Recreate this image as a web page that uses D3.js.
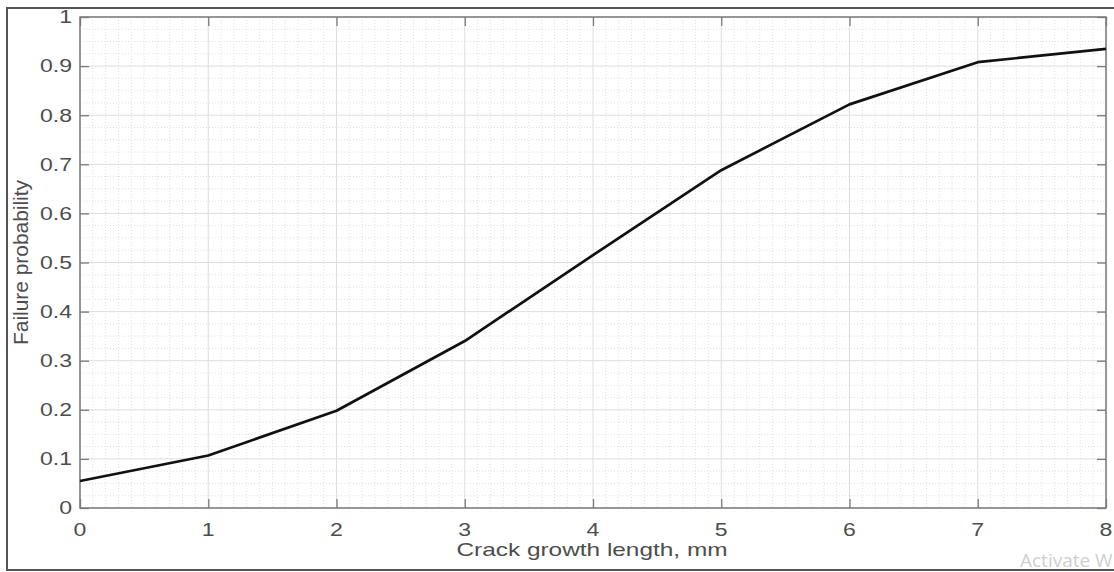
<!DOCTYPE html>
<html>
<head>
<meta charset="utf-8">
<script src="https://cdn.jsdelivr.net/npm/d3@7"></script>
<style>
  body { margin: 0; background: #fff; }
  svg { display: block; font-family: "Liberation Sans", Arial, sans-serif; }
</style>
</head>
<body>
<svg id="chart" width="1114" height="572"></svg>
<script>
// crack growth length (mm) and failure probability
const crackLength = [0, 1, 2, 3, 4, 5, 6, 7, 8];
const failureProb = [0.055, 0.107, 0.198, 0.340, 0.515, 0.688, 0.822, 0.908, 0.935];
const xTicks = [0, 1, 2, 3, 4, 5, 6, 7, 8];
const yTicks = [0, 0.1, 0.2, 0.3, 0.4, 0.5, 0.6, 0.7, 0.8, 0.9, 1];

const margin = { top: 17, right: 8, bottom: 64, left: 80 };
const W = 1114, H = 572;
const width = W - margin.left - margin.right,
      height = H - margin.top - margin.bottom;

// the source picture is stretched sideways, so its text is too
const STRETCH = 1.28;

const svg = d3.select("#chart");

// outer frame of the screenshot
svg.append("path")
    .attr("d", "M1114,8 H7 V570 H1114")
    .attr("fill", "none")
    .attr("stroke", "#555")
    .attr("stroke-width", 2);

const g = svg.append("g").attr("transform", `translate(${margin.left},${margin.top})`);

const x = d3.scaleLinear().domain([0, 8]).range([0, width]);
const y = d3.scaleLinear().domain([0, 1]).range([height, 0]);

// minor grid
g.append("g")
    .selectAll("line")
    .data(d3.range(0, 80).map(i => i / 10).filter(v => Math.abs(v - Math.round(v)) > 1e-6))
    .enter().append("line")
        .attr("x1", d => x(d)).attr("x2", d => x(d))
        .attr("y1", 0).attr("y2", height)
        .attr("stroke", "#e2e2e2")
        .attr("stroke-dasharray", "1,2");

g.append("g")
    .selectAll("line")
    .data(d3.range(0, 40).map(i => i / 40).filter(v => Math.abs(v * 10 - Math.round(v * 10)) > 1e-6))
    .enter().append("line")
        .attr("x1", 0).attr("x2", width)
        .attr("y1", d => y(d)).attr("y2", d => y(d))
        .attr("stroke", "#e2e2e2")
        .attr("stroke-dasharray", "1,2");

// major grid
g.append("g")
    .selectAll("line")
    .data(xTicks)
    .enter().append("line")
        .attr("x1", d => x(d)).attr("x2", d => x(d))
        .attr("y1", 0).attr("y2", height)
        .attr("stroke", "#dedede");

g.append("g")
    .selectAll("line")
    .data(yTicks)
    .enter().append("line")
        .attr("x1", 0).attr("x2", width)
        .attr("y1", d => y(d)).attr("y2", d => y(d))
        .attr("stroke", "#dedede");

// axes with inward ticks, labels drawn separately below
const axisColor = "#7a7a7a", labelColor = "#4d4d4d";

function styleAxis(sel) {
    sel.select(".domain").remove();
    sel.selectAll(".tick line").attr("stroke", axisColor).attr("stroke-width", 1.3);
    sel.selectAll(".tick text").remove();
}

g.append("g")
    .attr("transform", `translate(0,${height})`)
    .call(d3.axisBottom(x).tickValues(xTicks).tickSizeInner(-9).tickSizeOuter(0))
    .call(styleAxis);

g.append("g")
    .call(d3.axisTop(x).tickValues(xTicks).tickSizeInner(-9).tickSizeOuter(0))
    .call(styleAxis);

g.append("g")
    .call(d3.axisLeft(y).tickValues(yTicks).tickSizeInner(-9).tickSizeOuter(0))
    .call(styleAxis);

g.append("g")
    .attr("transform", `translate(${width},0)`)
    .call(d3.axisRight(y).tickValues(yTicks).tickSizeInner(-9).tickSizeOuter(0))
    .call(styleAxis);

// tick labels
const yFormat = d => (d === 0 || d === 1) ? d3.format("d")(d) : d3.format(".1f")(d);

g.append("g")
    .selectAll("text")
    .data(xTicks)
    .enter().append("text")
        .attr("transform", d => `translate(${x(d)},${height + 27.5}) scale(${STRETCH},1)`)
        .attr("text-anchor", "middle")
        .attr("fill", labelColor)
        .style("font-size", "18px")
        .text(d3.format("d"));

g.append("g")
    .selectAll("text")
    .data(yTicks)
    .enter().append("text")
        .attr("transform", d => `translate(-8,${y(d)}) scale(${STRETCH},1)`)
        .attr("dy", "0.35em")
        .attr("text-anchor", "end")
        .attr("fill", labelColor)
        .style("font-size", "18px")
        .text(yFormat);

// box
g.append("rect")
    .attr("width", width).attr("height", height)
    .attr("fill", "none")
    .attr("stroke", axisColor)
    .attr("stroke-width", 1.5);

// data line
const line = d3.line()
    .x((d, i) => x(crackLength[i]))
    .y(d => y(d));

g.append("path")
    .datum(failureProb)
    .attr("d", line)
    .attr("fill", "none")
    .attr("stroke", "#111")
    .attr("stroke-width", 2.7)
    .attr("stroke-linejoin", "round");

// axis titles
svg.append("text")
    .attr("x", margin.left + width / 2 - 1)
    .attr("y", 556)
    .attr("text-anchor", "middle")
    .attr("textLength", 271)
    .attr("lengthAdjust", "spacingAndGlyphs")
    .attr("fill", labelColor)
    .style("font-size", "18.5px")
    .text("Crack growth length, mm");

svg.append("text")
    .attr("transform", `translate(28,${margin.top + height / 2}) rotate(-90)`)
    .attr("text-anchor", "middle")
    .attr("textLength", 165)
    .attr("lengthAdjust", "spacingAndGlyphs")
    .attr("fill", labelColor)
    .style("font-size", "20px")
    .text("Failure probability");

// screenshot watermark
svg.append("text")
    .attr("x", 1020)
    .attr("y", 567)
    .attr("fill", "#cfcfcf")
    .style("font-family", "'Open Sans', sans-serif")
    .style("font-size", "19px")
    .text("Activate W");
</script>
</body>
</html>
